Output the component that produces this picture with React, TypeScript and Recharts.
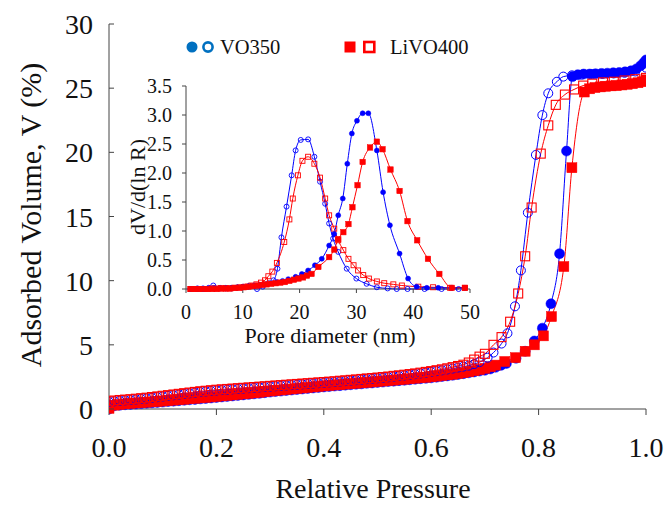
import React from 'react';
import { LineChart, Line, XAxis, YAxis } from 'recharts';

const FONT = '"Liberation Serif", "Times New Roman", serif';
const BLUE = '#0000FF';
const RED = '#FF0000';
const LEG_BLUE = '#0070C0';
const AXIS = '#444';

// ---- tick labels ----
const pressureTicks = [0, 0.2, 0.4, 0.6, 0.8, 1.0];
const volumeTicks = [0, 5, 10, 15, 20, 25, 30];
const poreTicks = [0, 10, 20, 30, 40, 50];
const dvTicks = [0, 0.5, 1, 1.5, 2, 2.5, 3, 3.5];

// ---- main isotherms, low-pressure region (shared relative pressures) ----
const lowPressure = [
  0.0, 0.01, 0.02, 0.03, 0.04, 0.05, 0.06, 0.07, 0.08, 0.09,
  0.1, 0.11, 0.12, 0.13, 0.14, 0.15, 0.16, 0.17, 0.18, 0.19,
  0.2, 0.21, 0.22, 0.23, 0.24, 0.25, 0.26, 0.27, 0.28, 0.29,
  0.3, 0.31, 0.32, 0.33, 0.34, 0.35, 0.36, 0.37, 0.38, 0.39,
  0.4, 0.41, 0.42, 0.43, 0.44, 0.45, 0.46, 0.47, 0.48, 0.49,
  0.5, 0.51, 0.52, 0.53, 0.54, 0.55, 0.56, 0.57, 0.58, 0.59,
  0.6, 0.61, 0.62, 0.63, 0.64, 0.65, 0.66, 0.67, 0.68, 0.69,
];
const vo350AdsLow = [
  0.0, 0.25, 0.29, 0.33, 0.36, 0.39, 0.42, 0.45, 0.48, 0.51,
  0.54, 0.58, 0.61, 0.65, 0.68, 0.72, 0.75, 0.79, 0.82, 0.86,
  0.9, 0.94, 0.98, 1.02, 1.06, 1.1, 1.14, 1.18, 1.22, 1.27,
  1.32, 1.36, 1.4, 1.44, 1.48, 1.52, 1.56, 1.6, 1.64, 1.68,
  1.72, 1.75, 1.79, 1.82, 1.86, 1.89, 1.93, 1.96, 2.0, 2.03,
  2.07, 2.1, 2.14, 2.17, 2.21, 2.24, 2.28, 2.32, 2.36, 2.39,
  2.43, 2.48, 2.53, 2.58, 2.63, 2.69, 2.75, 2.82, 2.89, 2.96,
];
const livo400AdsLow = [
  0.05, 0.3, 0.36, 0.4, 0.44, 0.47, 0.5, 0.53, 0.56, 0.59,
  0.62, 0.66, 0.69, 0.73, 0.76, 0.8, 0.83, 0.87, 0.9, 0.94,
  0.98, 1.02, 1.06, 1.1, 1.14, 1.18, 1.22, 1.26, 1.3, 1.35,
  1.4, 1.44, 1.48, 1.52, 1.56, 1.6, 1.64, 1.68, 1.72, 1.76,
  1.8, 1.83, 1.87, 1.9, 1.94, 1.97, 2.01, 2.04, 2.08, 2.11,
  2.15, 2.18, 2.22, 2.25, 2.29, 2.32, 2.36, 2.4, 2.44, 2.47,
  2.51, 2.56, 2.61, 2.66, 2.71, 2.77, 2.83, 2.9, 2.98, 3.07,
];
const vo350DesLow = [
  0.55, 0.6, 0.64, 0.67, 0.7, 0.74, 0.78, 0.82, 0.87, 0.92,
  0.97, 1.02, 1.07, 1.12, 1.17, 1.22, 1.27, 1.32, 1.36, 1.4,
  1.44, 1.47, 1.5, 1.53, 1.56, 1.59, 1.62, 1.65, 1.68, 1.71,
  1.74, 1.77, 1.8, 1.83, 1.86, 1.89, 1.92, 1.95, 1.98, 2.01,
  2.04, 2.07, 2.1, 2.14, 2.17, 2.21, 2.24, 2.28, 2.32, 2.35,
  2.39, 2.43, 2.47, 2.52, 2.56, 2.61, 2.66, 2.71, 2.77, 2.83,
  2.89, 2.95, 3.01, 3.08, 3.15, 3.23, 3.3, 3.38, 3.5, 3.65,
];
const livo400DesLow = [
  0.6, 0.66, 0.7, 0.73, 0.76, 0.8, 0.84, 0.88, 0.93, 0.98,
  1.03, 1.08, 1.13, 1.18, 1.23, 1.28, 1.33, 1.38, 1.42, 1.46,
  1.5, 1.53, 1.56, 1.59, 1.62, 1.65, 1.68, 1.71, 1.74, 1.77,
  1.8, 1.83, 1.86, 1.89, 1.92, 1.95, 1.98, 2.01, 2.04, 2.07,
  2.1, 2.13, 2.16, 2.2, 2.23, 2.27, 2.3, 2.34, 2.38, 2.41,
  2.45, 2.49, 2.53, 2.58, 2.62, 2.67, 2.72, 2.77, 2.83, 2.89,
  2.95, 3.02, 3.09, 3.17, 3.26, 3.35, 3.45, 3.62, 3.85, 4.08,
];

// ---- main isotherms, high-pressure region: [relative pressure, volume %] ----
const vo350AdsHigh: [number, number][] = [
  [0.7, 3.02], [0.71, 3.12], [0.72, 3.25], [0.73, 3.4], [0.74, 3.55], [0.758, 3.95], [0.775, 4.5], [0.792, 5.3],
  [0.807, 6.3], [0.823, 8.2], [0.839, 12.1], [0.852, 20.1], [0.863, 25.9], [0.873, 26.05], [0.884, 26.1],
  [0.895, 26.1], [0.906, 26.12], [0.917, 26.15], [0.928, 26.17], [0.939, 26.2], [0.95, 26.22], [0.961, 26.27],
  [0.972, 26.35], [0.982, 26.5], [0.99, 26.75], [0.996, 27.0], [1.0, 27.2],
];
const vo350DesHigh: [number, number][] = [
  [0.705, 4.0], [0.716, 4.4], [0.731, 5.1], [0.742, 5.9], [0.756, 8.0], [0.767, 10.8], [0.78, 15.3], [0.795, 19.8],
  [0.807, 22.9], [0.818, 24.6], [0.834, 25.5], [0.846, 25.9], [0.862, 26.0], [0.88, 26.05], [0.9, 26.1],
  [0.92, 26.12], [0.94, 26.15], [0.96, 26.2], [0.98, 26.3], [1.0, 26.6],
];
const livo400AdsHigh: [number, number][] = [
  [0.7, 3.17], [0.71, 3.29], [0.72, 3.42], [0.737, 3.7], [0.757, 4.0], [0.775, 4.5], [0.792, 5.0], [0.809, 5.7],
  [0.824, 7.2], [0.847, 11.1], [0.862, 18.8], [0.885, 24.7], [0.895, 24.95], [0.905, 25.05], [0.915, 25.1],
  [0.925, 25.15], [0.935, 25.18], [0.945, 25.2], [0.955, 25.25], [0.965, 25.3], [0.975, 25.35], [0.985, 25.42],
  [0.993, 25.5], [1.0, 25.65],
];
const livo400DesHigh: [number, number][] = [
  [0.7, 4.3], [0.716, 5.0], [0.731, 5.6], [0.747, 6.8], [0.762, 9.0], [0.775, 11.9], [0.787, 15.7], [0.804, 19.9],
  [0.818, 22.1], [0.832, 23.7], [0.849, 24.5], [0.866, 24.9], [0.883, 25.2], [0.9, 25.35], [0.92, 25.45],
  [0.94, 25.5], [0.96, 25.6], [0.98, 25.7], [1.0, 25.8],
];

// ---- inset pore size distributions: [pore diameter nm, dV/d(ln R)] ----
const vo350PsdFilled: [number, number][] = [
  [0.8, 0.0], [2, 0.0], [3, 0.0], [4, 0.01], [5, 0.01], [6, 0.01], [7, 0.02], [8, 0.02], [9, 0.03], [10, 0.04],
  [11, 0.05], [12, 0.06], [13, 0.07], [14, 0.08], [15, 0.1], [16, 0.12], [17, 0.14], [18, 0.17], [19.3, 0.21],
  [20.4, 0.26], [21.5, 0.32], [22.7, 0.41], [23.9, 0.52], [25.2, 0.75], [26.1, 0.95], [26.8, 1.27], [27.6, 1.56],
  [28.4, 2.16], [29.2, 2.68], [30.1, 2.9], [31.1, 3.03], [32.1, 3.03], [33.6, 2.39], [34.7, 1.67], [35.9, 1.1],
  [37.6, 0.61], [39.1, 0.18], [40.6, 0.04], [42.4, 0.02], [44.4, 0.02], [46.8, 0.02], [49.1, 0.02],
];
const vo350PsdOpen: [number, number][] = [
  [0.8, 0.0], [2, 0.01], [3, 0.01], [4, 0.02], [4.8, 0.06], [6, 0.02], [7, 0.01], [8, 0.01], [9, 0.02], [10, 0.03],
  [11, 0.04], [12.5, 0.0], [13.5, 0.04], [14.5, 0.1], [15.4, 0.15], [16.1, 0.35], [16.8, 0.89], [17.7, 1.42],
  [18.6, 1.96], [19.3, 2.39], [20.2, 2.57], [21.5, 2.58], [22.6, 2.28], [23.6, 1.85], [24.5, 1.47], [25.2, 1.13],
  [25.9, 0.87], [26.8, 0.64], [28.3, 0.35], [30.0, 0.18], [31.8, 0.09], [33.6, 0.03], [35.5, 0.01], [37.1, 0.0],
  [39, 0.0], [42, 0.0], [45, 0.0], [48, 0.0],
];
const livo400PsdFilled: [number, number][] = [
  [0.8, 0.0], [1.5, 0.0], [2.2, 0.0], [3, 0.0], [3.8, 0.0], [4.6, 0.0], [5.4, 0.0], [6.2, 0.01], [7, 0.01],
  [7.8, 0.01], [8.6, 0.02], [9.4, 0.02], [10.2, 0.03], [11, 0.04], [11.8, 0.05], [12.6, 0.06], [13.4, 0.07],
  [14.2, 0.08], [15, 0.09], [15.8, 0.1], [16.6, 0.11], [17.4, 0.12], [18.2, 0.14], [19, 0.16], [19.8, 0.18],
  [20.6, 0.2], [21.3, 0.23], [22.1, 0.26], [23.3, 0.38], [25.2, 0.55], [26.1, 0.68], [26.8, 0.86], [27.7, 0.98],
  [28.6, 1.12], [29.3, 1.41], [30.2, 1.79], [31.1, 2.19], [32.4, 2.44], [33.6, 2.54], [34.6, 2.41], [36.0, 2.06],
  [37.6, 1.69], [39.0, 1.17], [40.7, 0.84], [42.6, 0.52], [44.6, 0.26], [46.8, 0.02], [49.1, 0.02],
];
const livo400PsdOpen: [number, number][] = [
  [0.8, 0.0], [1.5, 0.0], [2.5, 0.0], [3.5, 0.0], [4.5, 0.01], [5.5, 0.01], [6.5, 0.01], [7.5, 0.01], [8.5, 0.02],
  [9.5, 0.03], [10.5, 0.04], [11.5, 0.06], [12.4, 0.08], [13.2, 0.11], [13.9, 0.15], [14.5, 0.22], [15.2, 0.3],
  [16.0, 0.45], [17.3, 0.81], [18.2, 1.2], [18.8, 1.56], [19.7, 1.96], [20.5, 2.21], [21.5, 2.28], [22.6, 2.16],
  [23.6, 1.92], [24.5, 1.56], [25.2, 1.27], [26.1, 1.04], [26.8, 0.84], [27.7, 0.67], [28.6, 0.52], [29.5, 0.41],
  [30.3, 0.32], [31.2, 0.24], [32.2, 0.18], [33.6, 0.13], [34.9, 0.1], [36.5, 0.08], [38.0, 0.06], [40.9, 0.04],
  [43.5, 0.03], [46.5, 0.02], [49.1, 0.02],
];

const toPts = (arr: [number, number][]) => arr.map(([x, y]) => ({ x, y }));
const joinSeries = (low: number[], high: [number, number][]) =>
  [...lowPressure.map((x, i) => ({ x, y: low[i] })), ...toPts(high)];

type Kind = 'circle' | 'square';
const makeDot = (kind: Kind, filled: boolean, color: string, size: number, sw: number) => (props: any) => {
  const { cx, cy, index } = props;
  if (cx == null || cy == null || isNaN(cx) || isNaN(cy)) return <g key={`e${index}`} />;
  if (kind === 'circle') {
    return (
      <circle key={`c${index}`} cx={cx} cy={cy} r={size / 2}
        fill={filled ? color : 'none'} stroke={color} strokeWidth={filled ? 0.5 : sw} />
    );
  }
  return (
    <rect key={`s${index}`} x={cx - size / 2} y={cy - size / 2} width={size} height={size}
      fill={filled ? color : 'none'} stroke={color} strokeWidth={filled ? 0.5 : sw} />
  );
};

const tickStyle = (size: number) => ({ fontFamily: FONT, fontSize: size, fill: '#111' });

const mainYTick = (props: any) => {
  const { x, y, payload } = props;
  return (
    <g>
      <line x1={x + 16} x2={x + 21} y1={y} y2={y} stroke={AXIS} strokeWidth={1} />
      <text x={x} y={y} dy="0.36em" textAnchor="end" style={tickStyle(28)}>{payload.value}</text>
    </g>
  );
};

function MainChart() {
  return (
    <LineChart width={667} height={506} margin={{ top: 24, right: 21, left: 0, bottom: 37 }}>
      <XAxis dataKey="x" type="number" domain={[0, 1]} ticks={pressureTicks} allowDataOverflow
        tickFormatter={(v: number) => v.toFixed(1)} tick={tickStyle(28)} tickSize={6} tickMargin={22}
        height={60} stroke={AXIS} />
      <XAxis xAxisId="top" orientation="top" type="number" domain={[0, 1]} tick={false} tickLine={false}
        height={0} stroke={AXIS} />
      <YAxis type="number" domain={[0, 30]} ticks={volumeTicks} width={109} tick={mainYTick}
        tickSize={0} tickMargin={16} tickLine={false} stroke={AXIS} />
      <YAxis yAxisId="right" orientation="right" type="number" domain={[0, 30]} tick={false} tickLine={false}
        width={0} stroke={AXIS} />
      <Line data={joinSeries(vo350AdsLow, vo350AdsHigh)} dataKey="y" type="monotone" stroke={BLUE} strokeWidth={1}
        dot={makeDot('circle', true, BLUE, 10, 1)} activeDot={false} isAnimationActive={false} />
      <Line data={joinSeries(livo400AdsLow, livo400AdsHigh)} dataKey="y" type="monotone" stroke={RED} strokeWidth={1}
        dot={makeDot('square', true, RED, 10, 1)} activeDot={false} isAnimationActive={false} />
      <Line data={joinSeries(vo350DesLow, vo350DesHigh)} dataKey="y" type="monotone" stroke={BLUE} strokeWidth={1}
        dot={makeDot('circle', false, BLUE, 9, 1)} activeDot={false} isAnimationActive={false} />
      <Line data={joinSeries(livo400DesLow, livo400DesHigh)} dataKey="y" type="monotone" stroke={RED} strokeWidth={1}
        dot={makeDot('square', false, RED, 9, 1.1)} activeDot={false} isAnimationActive={false} />
    </LineChart>
  );
}

function InsetChart() {
  return (
    <LineChart width={390} height={300} margin={{ top: 26, right: 20, left: 0, bottom: 31 }}>
      <XAxis dataKey="x" type="number" domain={[0, 50]} ticks={poreTicks} tick={tickStyle(20)}
        tickSize={4} tickMargin={12} height={40} stroke={AXIS} />
      <XAxis xAxisId="top" orientation="top" type="number" domain={[0, 50]} tick={false} tickLine={false}
        height={0} stroke={AXIS} />
      <YAxis type="number" domain={[0, 3.5]} ticks={dvTicks} width={86} tick={tickStyle(20)}
        tickFormatter={(v: number) => v.toFixed(1)} tickSize={4} tickMargin={10} stroke={AXIS} />
      <YAxis yAxisId="right" orientation="right" type="number" domain={[0, 3.5]} tick={false} tickLine={false}
        width={0} stroke={AXIS} />
      <Line data={toPts(vo350PsdOpen)} dataKey="y" type="monotone" stroke={BLUE} strokeWidth={1}
        dot={makeDot('circle', false, BLUE, 5, 0.9)} activeDot={false} isAnimationActive={false} />
      <Line data={toPts(livo400PsdOpen)} dataKey="y" type="monotone" stroke={RED} strokeWidth={1}
        dot={makeDot('square', false, RED, 5, 0.9)} activeDot={false} isAnimationActive={false} />
      <Line data={toPts(vo350PsdFilled)} dataKey="y" type="monotone" stroke={BLUE} strokeWidth={1}
        dot={makeDot('circle', true, BLUE, 5, 1)} activeDot={false} isAnimationActive={false} />
      <Line data={toPts(livo400PsdFilled)} dataKey="y" type="monotone" stroke={RED} strokeWidth={1}
        dot={makeDot('square', true, RED, 5.5, 1)} activeDot={false} isAnimationActive={false} />
    </LineChart>
  );
}

export default function App() {
  const t = { fontFamily: FONT, fill: '#111' } as const;
  return (
    <div style={{ position: 'absolute', left: 0, top: 0, width: 667, height: 506, background: '#fff' }}>
      <div style={{ position: 'absolute', left: 0, top: 0 }}>
        <MainChart />
      </div>
      <div style={{ position: 'absolute', left: 100, top: 60 }}>
        <InsetChart />
      </div>
      <svg width={667} height={506} style={{ position: 'absolute', left: 0, top: 0, pointerEvents: 'none' }}>
        <text x={30} y={215} transform="rotate(-90 30 215)" textAnchor="middle" dominantBaseline="central"
          style={{ ...t, fontSize: 30 }}>Adsorbed Volume, V (%)</text>
        <text x={373} y={488} textAnchor="middle" dominantBaseline="central" style={{ ...t, fontSize: 28 }}>
          Relative Pressure</text>
        <text x={330} y={335} textAnchor="middle" dominantBaseline="central" style={{ ...t, fontSize: 22 }}>
          Pore diameter (nm)</text>
        <text x={137} y={187} transform="rotate(-90 137 187)" textAnchor="middle" dominantBaseline="central"
          style={{ ...t, fontSize: 22 }}>dV/d(ln R)</text>
        {/* legend */}
        <circle cx={192} cy={47} r={5.5} fill={LEG_BLUE} />
        <circle cx={208} cy={47} r={4.6} fill="none" stroke={LEG_BLUE} strokeWidth={2.6} />
        <text x={220} y={47} dominantBaseline="central" style={{ ...t, fontSize: 20.5 }}>VO350</text>
        <rect x={344.5} y={41.5} width={11} height={11} fill={RED} />
        <rect x={364.3} y={42} width={10} height={10} fill="none" stroke={RED} strokeWidth={2.6} />
        <text x={390} y={47} dominantBaseline="central" style={{ ...t, fontSize: 20.5 }}>LiVO400</text>
      </svg>
    </div>
  );
}
